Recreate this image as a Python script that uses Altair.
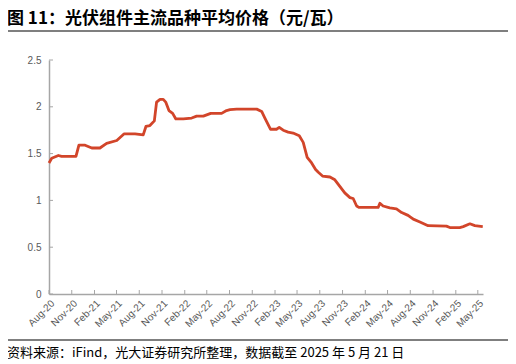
import altair as alt
import pandas as pd

# ---- data ----
dates = [
    "2020-08-01", "2020-08-12", "2020-09-08", "2020-09-21", "2020-11-18", "2020-11-30",
    "2020-12-25", "2021-01-21", "2021-02-23", "2021-03-22", "2021-05-02", "2021-05-31",
    "2021-07-15", "2021-08-17", "2021-08-28", "2021-09-13", "2021-10-01", "2021-10-10",
    "2021-10-24", "2021-11-06", "2021-11-16", "2021-11-29", "2021-12-14", "2021-12-27",
    "2022-01-26", "2022-03-01", "2022-03-21", "2022-04-17", "2022-05-17", "2022-06-30",
    "2022-07-20", "2022-08-03", "2022-08-30", "2022-11-19", "2022-12-09", "2022-12-22",
    "2023-01-14", "2023-02-07", "2023-02-18", "2023-03-06", "2023-03-26", "2023-04-15",
    "2023-05-10", "2023-05-26", "2023-06-11", "2023-06-29", "2023-07-15", "2023-07-26",
    "2023-08-12", "2023-09-11", "2023-10-01", "2023-10-21", "2023-11-10", "2023-12-01",
    "2023-12-14", "2023-12-28", "2024-01-06", "2024-03-24", "2024-03-31", "2024-04-13",
    "2024-05-10", "2024-06-06", "2024-06-27", "2024-07-23", "2024-08-13", "2024-09-09",
    "2024-10-12", "2024-12-25", "2025-01-08", "2025-02-17", "2025-03-03", "2025-03-30",
    "2025-04-19", "2025-05-21",
]
prices = [
    1.40, 1.45, 1.48, 1.47, 1.47, 1.59,
    1.59, 1.56, 1.56, 1.61, 1.64, 1.71,
    1.71, 1.70, 1.79, 1.80, 1.85, 2.05,
    2.08, 2.08, 2.05, 1.96, 1.93, 1.87,
    1.87, 1.88, 1.90, 1.90, 1.93, 1.93,
    1.96, 1.97, 1.975, 1.975, 1.95, 1.88,
    1.76, 1.76, 1.78, 1.75, 1.73, 1.72,
    1.69, 1.62, 1.46, 1.40, 1.33, 1.30,
    1.26, 1.25, 1.22, 1.15, 1.08, 1.03,
    1.02, 0.94, 0.925, 0.925, 0.97, 0.94,
    0.92, 0.91, 0.87, 0.84, 0.80, 0.77,
    0.73, 0.725, 0.71, 0.71, 0.72, 0.75,
    0.73, 0.72,
]
tick_dates = [
    "2020-08-01", "2020-11-01", "2021-02-01", "2021-05-01", "2021-08-01", "2021-11-01",
    "2022-02-01", "2022-05-01", "2022-08-01", "2022-11-01", "2023-02-01", "2023-05-01",
    "2023-08-01", "2023-11-01", "2024-02-01", "2024-05-01", "2024-08-01", "2024-11-01",
    "2025-02-01", "2025-05-01",
]
y_ticks = [0, 0.5, 1, 1.5, 2, 2.5]
title_text = "图 11：光伏组件主流品种平均价格（元/瓦）"
source_text = "资料来源：iFind，光大证券研究所整理，数据截至 2025 年 5 月 21 日"

W, H = 434, 234
LINE_COLOR = "#D2452A"
AXIS_COLOR = "#A6A6A6"
LABEL_COLOR = "#595959"


def ms(s):
    return int(pd.Timestamp(s, tz="UTC").value // 10**6)


df = pd.DataFrame({"t": [ms(s) for s in dates], "price": prices})
ticks_x = pd.DataFrame({"t": [ms(s) for s in tick_dates]})
ticks_y = pd.DataFrame({"price": y_ticks})

x_scale = alt.Scale(type="utc", domain=[ms("2020-08-01"), ms("2025-05-22")], nice=False)
y_scale = alt.Scale(domain=[0, 2.5], nice=False)

x_axis = alt.Axis(values=[ms(s) for s in tick_dates],
                  labelExpr="utcFormat(datum.value, '%b-%y')",
                  labelAngle=-45, labelFontSize=10, labelFont="Liberation Sans",
                  labelColor=LABEL_COLOR, labelPadding=4, ticks=False, grid=False,
                  domainColor=AXIS_COLOR, domainWidth=1.5, title=None,
                  labelOverlap=False, labelFlush=False)
y_axis = alt.Axis(values=y_ticks, format="~g", labelFontSize=10,
                  labelFont="Liberation Sans", labelColor=LABEL_COLOR, labelPadding=8,
                  ticks=False, grid=False, domainColor=AXIS_COLOR, domainWidth=1.5,
                  title=None)

line = alt.Chart(df).mark_line(color=LINE_COLOR, strokeWidth=2.8, strokeJoin="round").encode(
    x=alt.X("t:T", scale=x_scale, axis=x_axis),
    y=alt.Y("price:Q", scale=y_scale, axis=y_axis),
)

xt = alt.Chart(ticks_x).mark_rule(color=AXIS_COLOR, strokeWidth=1).encode(
    x=alt.X("t:T", scale=x_scale, axis=x_axis), y=alt.value(H), y2=alt.value(H - 4)
)
yt = alt.Chart(ticks_y).mark_rule(color=AXIS_COLOR, strokeWidth=1).encode(
    y=alt.Y("price:Q", scale=y_scale, axis=y_axis), x=alt.value(0), x2=alt.value(4)
)

title = alt.Chart(pd.DataFrame({"s": [title_text]})).mark_text(
    align="left", baseline="alphabetic", fontSize=17, fontWeight="bold",
    font="Noto Sans CJK SC", color="#000000"
).encode(text="s:N", x=alt.value(-42), y=alt.value(-36))

title_rule = alt.Chart(pd.DataFrame({"a": [0]})).mark_rule(color="#000000", strokeWidth=1.2).encode(
    x=alt.value(-44), x2=alt.value(461), y=alt.value(-29)
)

source_rule = alt.Chart(pd.DataFrame({"a": [0]})).mark_rule(color="#000000", strokeWidth=1.2).encode(
    x=alt.value(-44), x2=alt.value(461), y=alt.value(280)
)

source = alt.Chart(pd.DataFrame({"s": [source_text]})).mark_text(
    align="left", baseline="alphabetic", fontSize=13, font="Noto Sans CJK SC", color="#000000"
).encode(text="s:N", x=alt.value(-42), y=alt.value(297))

chart = alt.layer(line, xt, yt, title, title_rule, source_rule, source).properties(
    width=W, height=H,
    autosize=alt.AutoSizeParams(type="none"),
    padding={"left": 41, "top": 52, "right": 25, "bottom": 68},
    background="white",
).configure_view(stroke=None)

chart.save("out.html", embed_options={"renderer": "svg", "actions": False})
